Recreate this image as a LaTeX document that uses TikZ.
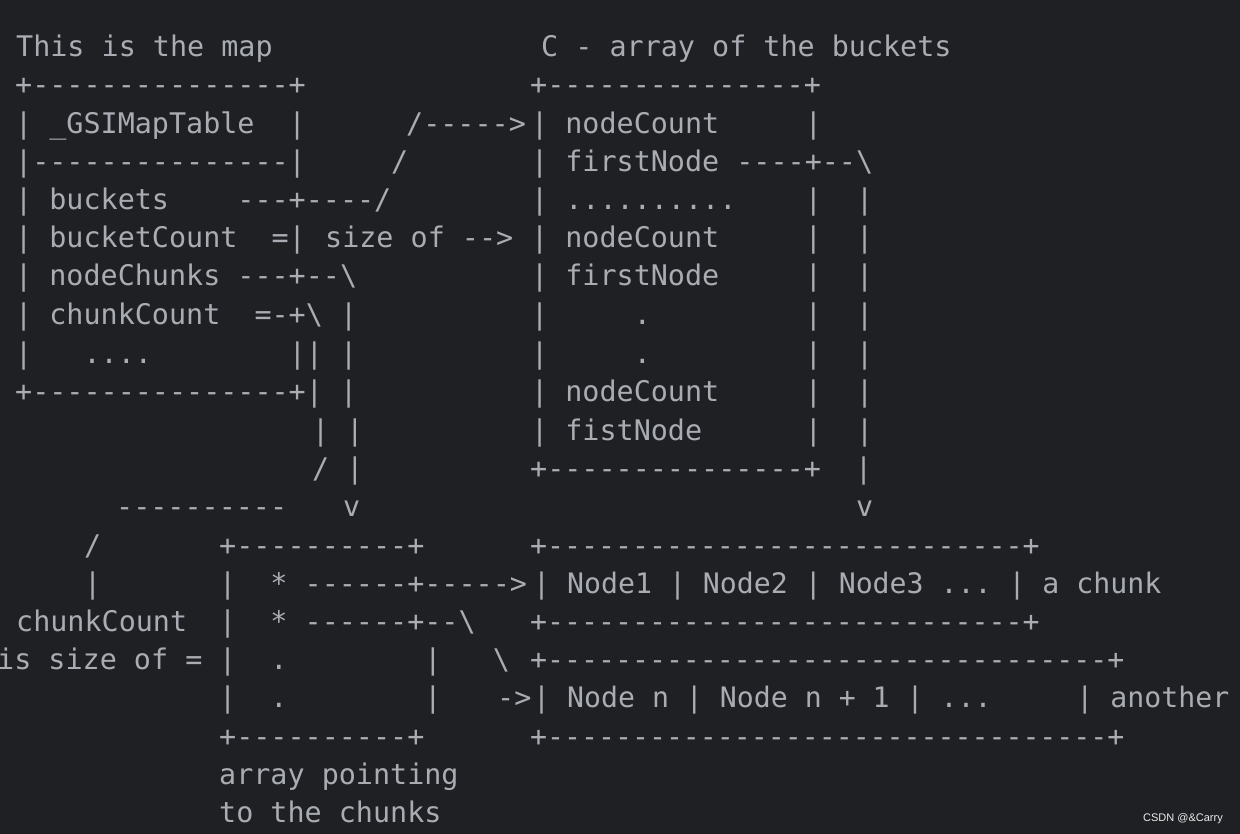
\documentclass[tikz,border=0pt]{standalone}
\usepackage{fontspec}
\setmonofont{DejaVu Sans Mono}
\setsansfont{Liberation Sans}
\definecolor{bg}{HTML}{1F2023}
\definecolor{fg}{HTML}{A9ADB3}
\begin{document}
\begin{tikzpicture}[x=1pt,y=-1pt,
  txt/.style={anchor=base west,inner sep=0pt,text=fg,font=\ttfamily\fontsize{28.4}{29}\selectfont},
  narrow/.style={font=\ttfamily\fontsize{28.2}{29}\selectfont}]
\fill[bg] (0,0) rectangle (1240,834);
\useasboundingbox (0,0) rectangle (1240,834);
\begin{scope}
\clip (0,0) rectangle (1240,834);
\newcommand\Ln[5][]{\node[txt,#1] (#2) at (#3,#4+10) {#5};}
\Ln{a1}{16}{47}{This~is~the~map}
\Ln{a2}{541}{47}{C~-~array~of~the~buckets}
\Ln{b1}{15}{85}{+---------------+}
\Ln{b2}{530}{85}{+---------------+}
\Ln{c1}{15}{124}{|~\_GSIMapTable~~|}
\Ln{c2}{406}{124}{/----->}
\Ln{c3}{531}{124}{|~nodeCount~~~~~|}
\Ln{d1}{15}{162}{|---------------|}
\Ln{d2}{391}{162}{/}
\Ln{d3}{531}{162}{|~firstNode~----+--\textbackslash}
\Ln{e1}{15}{200}{|~buckets~~~~---+----/}
\Ln{e3}{531}{200}{|~..........~~~~|~~|}
\Ln{f1}{15}{238}{|~bucketCount~~=|}
\Ln{f2}{325}{238}{size~of~-->}
\Ln{f3}{531}{238}{|~nodeCount~~~~~|~~|}
\Ln{g1}{15}{276}{|~nodeChunks~---+--\textbackslash}
\Ln{g3}{531}{276}{|~firstNode~~~~~|~~|}
\Ln{h1}{15}{315}{|~chunkCount~~=-+\textbackslash~|}
\Ln{h3}{531}{315}{|~~~~~.~~~~~~~~~|~~|}
\Ln{i1}{15}{353}{|~~~....~~~~~~~~||~|}
\Ln{i3}{531}{353}{|~~~~~.~~~~~~~~~|~~|}
\Ln{j1}{15}{391}{+---------------+|~|}
\Ln{j3}{531}{391}{|~nodeCount~~~~~|~~|}
\Ln{k1}{312}{430}{|~|}
\Ln{k3}{531}{430}{|~fistNode~~~~~~|~~|}
\Ln{l1}{312}{468}{/~|}
\Ln{l3}{530}{468}{+---------------+~~|}
\Ln{m1}{116}{506}{----------}
\Ln{m2}{343}{506}{v}
\Ln{m3}{856}{506}{v}
\Ln{n1}{84}{545}{/}
\Ln{n2}{219}{545}{+----------+}
\Ln[narrow]{n3}{530}{545}{+----------------------------+}
\Ln{o1}{84}{583}{|}
\Ln{o2}{219}{583}{|~~*~------+----->}
\Ln[narrow]{o3}{533}{583}{|~Node1~|~Node2~|~Node3~...~|~a~chunk}
\Ln{p1}{16}{621}{chunkCount}
\Ln{p2}{219}{621}{|~~*~------+--\textbackslash}
\Ln[narrow]{p3}{530}{621}{+----------------------------+}
\Ln{q1}{-3}{659}{is~size~of~=}
\Ln{q2}{219}{659}{|~~.~~~~~~~~|~~~\textbackslash}
\Ln[narrow]{q3}{530}{659}{+---------------------------------+}
\Ln{r2}{219}{697}{|~~.~~~~~~~~|}
\Ln{r4}{497}{697}{->}
\Ln[narrow]{r3}{533}{697}{|~Node~n~|~Node~n~+~1~|~...~~~~~|~another}
\Ln{s2}{219}{736}{+----------+}
\Ln[narrow]{s3}{530}{736}{+---------------------------------+}
\Ln{t2}{219}{774}{array~pointing}
\Ln{u2}{219}{812}{to~the~chunks}
\node[anchor=base east,inner sep=0pt,text=white!85!gray,font=\sffamily\fontsize{11}{11}\selectfont] (wm) at (1223,821) {CSDN @\&Carry};
\end{scope}
\end{tikzpicture}
\end{document}
